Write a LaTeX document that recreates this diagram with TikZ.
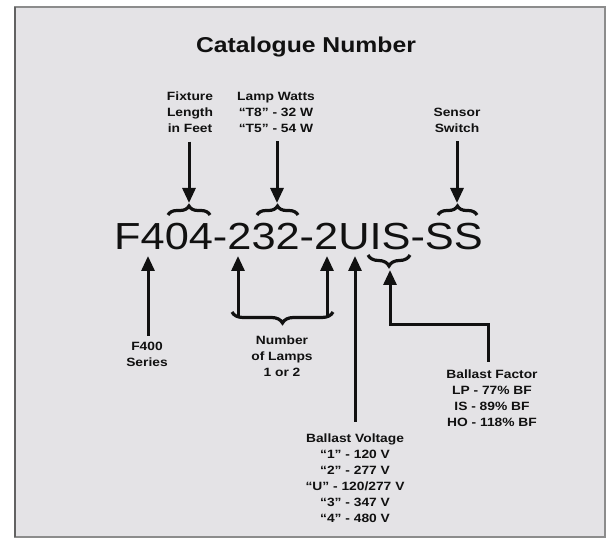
\documentclass[tikz,border=0pt]{standalone}
\usepackage{fontspec}
\setmainfont{Liberation Sans}[FakeStretch=1.15]
\usetikzlibrary{arrows.meta, positioning, decorations.pathreplacing}
\definecolor{panelgray}{HTML}{E4E3E6}
\definecolor{framegray}{HTML}{8C8C8C}
\definecolor{inkblack}{HTML}{111111}

\begin{document}
\begin{tikzpicture}[
    x=1pt, y=-1pt,
    note/.style={font=\bfseries\fontsize{12}{16}\selectfont, align=center, text=inkblack, inner sep=3pt},
    pointer/.style={-{Triangle[width=13pt,length=15pt]}, line width=3pt, draw=inkblack},
    curly/.style={decorate, decoration={brace, amplitude=#1}, line width=3.2pt, draw=inkblack},
    curly/.default=9pt
]

% Frame
\useasboundingbox (0,0) rectangle (611,540);
\fill[white] (0,0) rectangle (611,540);
\filldraw[fill=panelgray, draw=framegray, line width=2pt] (15,7) rectangle (605,537);
\draw[framegray!70!black, line width=2.5pt] (15,7) -- (15,537);

% Title and code
\node[font=\bfseries\fontsize{21.5}{26}\selectfont, text=inkblack, anchor=base] (title) at (306,53) {Catalogue Number};
\node[font=\fontsize{37.7}{44}\selectfont, text=inkblack, anchor=base, inner sep=0pt] (code) at (298.5,250) {F404-232-2UIS-SS};

% Labels above
\node[note] (length) at (190,112) {Fixture\\Length\\in Feet};
\node[note] (watts) at (276,112) {Lamp Watts\\``T8'' - 32 W\\``T5'' - 54 W};
\node[note] (sensor) at (457,120) {Sensor\\Switch};

% Labels below
\node[note] (series) at (147,354) {F400\\Series};
\node[note] (lamps) at (282,356) {Number\\of Lamps\\1 or 2};
\node[note] (factor) at (492,398.5) {Ballast Factor\\LP - 77\% BF\\IS - 89\% BF\\HO - 118\% BF};
\node[note] (voltage) at (355,478.5) {Ballast Voltage\\“1” - 120 V\\“2” - 277 V\\“U” - 120/277 V\\“3” - 347 V\\“4” - 480 V};

% Braces
\draw[curly] (168,215) -- (210,215);
\draw[curly] (257,215) -- (298,215);
\draw[curly] (438,215) -- (477,215);
\draw[curly=11pt] (410,255) -- (368,255);
\draw[curly=11pt] (333,312) -- (232,312);

% Tips
\coordinate (length tip) at (189,203);
\coordinate (watts tip) at (277,203);
\coordinate (sensor tip) at (457,203);
\coordinate (series tip) at (148,256);
\coordinate (lamp one tip) at (238,256);
\coordinate (lamp two tip) at (327,256);
\coordinate (lamp one base) at (238,316);
\coordinate (lamp two base) at (327,316);
\coordinate (voltage tip) at (355,256);
\coordinate (factor tip) at (390,270);
\coordinate (factor bend) at (488,325);

% Arrows down
\draw[pointer] ([yshift=-6pt]length.south -| length tip) -- (length tip);
\draw[pointer] ([yshift=-6pt]watts.south -| watts tip) -- (watts tip);
\draw[pointer] ([yshift=-6pt]sensor.south -| sensor tip) -- (sensor tip);

% Arrows up
\draw[pointer] ([yshift=3pt]series.north -| series tip) -- (series tip);
\draw[pointer] (lamp one base) -- (lamp one tip);
\draw[pointer] (lamp two base) -- (lamp two tip);
\draw[pointer] ([yshift=9pt]voltage.north -| voltage tip) -- (voltage tip);
\draw[pointer] ([yshift=5pt]factor.north -| factor bend) -- (factor bend) -| (factor tip);

\end{tikzpicture}
\end{document}
